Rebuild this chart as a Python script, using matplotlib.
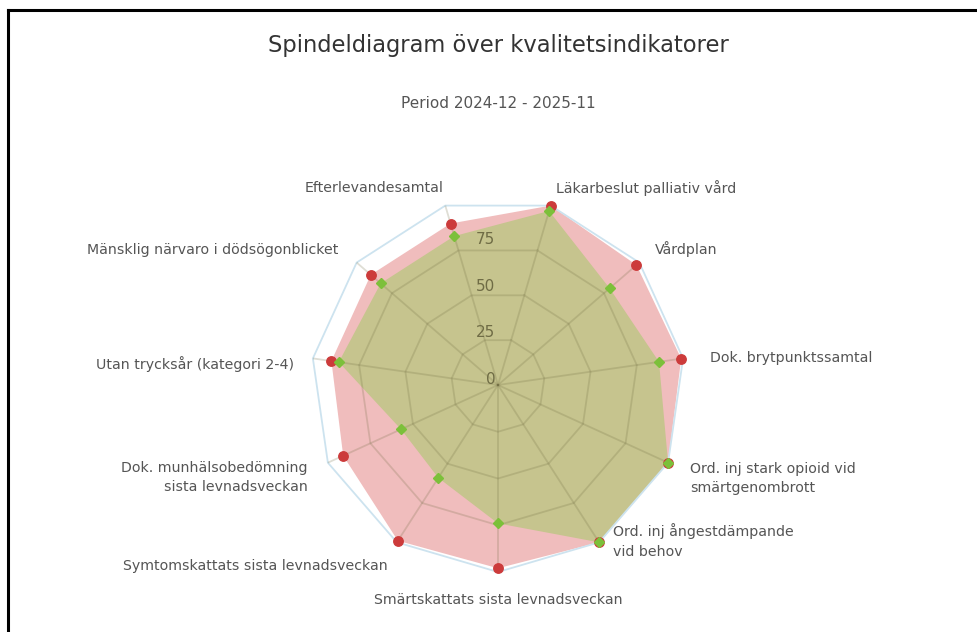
import numpy as np
import matplotlib
matplotlib.use('Agg')
import matplotlib.pyplot as plt
from matplotlib.lines import Line2D

categories = [
    'Läkarbeslut palliativ vård',
    'Vårdplan',
    'Dok. brytpunktssamtal',
    'Ord. inj stark opioid vid\nsmärtgenombrott',
    'Ord. inj ångestdämpande\nvid behov',
    'Smärtskattats sista levnadsveckan',
    'Symtomskattats sista levnadsveckan',
    'Dok. munhälsobedömning\nsista levnadsveckan',
    'Utan trycksår (kategori 2-4)',
    'Mänsklig närvaro i dödsögonblicket',
    'Efterlevandesamtal',
]
riket = [100, 98, 99, 100, 100, 98, 99, 91, 90, 90, 90]
enhet = [97, 79, 87, 100, 100, 74, 59, 57, 86, 83, 83]
yticks = [0, 25, 50, 75]

title = 'Spindeldiagram över kvalitetsindikatorer'
subtitle = 'Period 2024-12 - 2025-11'

# label nudges in pixels (x right, y down)
lab_dx = [0, 1, 8, 5, 4, 0, 1, -3, 0, -4, 3]
lab_dy = [0, -1, 2, 8, -17, 9, 8, 7, 8, 0, 0]

plt.rcParams['font.family'] = ['DejaVu Sans']

n = len(categories)
theta = (np.arange(n) + 0.5) * 2 * np.pi / n
theta_c = np.append(theta, theta[0])

fig = plt.figure(figsize=(9.77, 6.32), dpi=100)
ax = fig.add_axes([0.3183, 0.0949, 0.3828, 0.5918], projection='polar')
ax.set_theta_zero_location('N')
ax.set_theta_direction(-1)
ax.set_ylim(0, 100)
ax.grid(False)
ax.spines['polar'].set_visible(False)
ax.set_xticks([])
ax.set_yticks([])
ax.patch.set_alpha(0)

# filled areas
r1 = np.append(riket, riket[0])
r2 = np.append(enhet, enhet[0])
ax.fill(theta_c, r1, color='#f0bdbd', zorder=1, lw=0, clip_on=False)
ax.fill(theta_c, r2, color='#c6c48e', zorder=2, lw=0, clip_on=False)

# grid polygons and spokes on top, semi-transparent
for r in [25, 50, 75]:
    ax.plot(theta_c, [r] * (n + 1), color='#6e6a40', alpha=0.22, lw=1.3, zorder=3)
ax.plot(theta_c, [100] * (n + 1), color='#cde3ef', lw=1.3, zorder=3, clip_on=False)
for t in theta:
    ax.plot([t, t], [0, 100], color='#6e6a40', alpha=0.22, lw=1.3, zorder=3)

ax.plot(theta, riket, 'o', color='#cc3b3b', ms=6.8, zorder=5, clip_on=False)
ax.plot(theta, enhet, 'D', color='#7cc03a', ms=4.8, zorder=6, clip_on=False)

# y-axis labels
for v in yticks:
    ax.annotate(str(v), (0, v), xytext=(-2, 3.8), textcoords='offset points',
                ha='right', va='center', fontsize=11, color='#6f6c45', zorder=7)

# category labels
for t, lab, dx, dy in zip(theta, categories, lab_dx, lab_dy):
    s = np.sin(t)
    c = np.cos(t)
    if abs(s) < 0.1:
        ha = 'center'
    elif s > 0:
        ha = 'left'
    else:
        ha = 'right'
    va = 'center'
    ax.annotate(lab, (t, 110), xytext=(dx * 0.72, -dy * 0.72), textcoords='offset points',
                ha=ha, va=va, fontsize=10.2, color='#555555', linespacing=1.5,
                multialignment=ha if ha != 'center' else 'center', annotation_clip=False)

fig.text(0.5097, 0.928, title, ha='center', va='center', fontsize=16.3, color='#333333')
fig.text(0.5097, 0.837, subtitle, ha='center', va='center', fontsize=11, color='#555555')

# frame border (left and top)
fig.add_artist(Line2D([8 / 977, 8 / 977], [0, 1 - 10 / 632], color='black', lw=2.2))
fig.add_artist(Line2D([8 / 977, 1], [1 - 10 / 632, 1 - 10 / 632], color='black', lw=2.2))

fig.savefig('out.png', dpi=100)
